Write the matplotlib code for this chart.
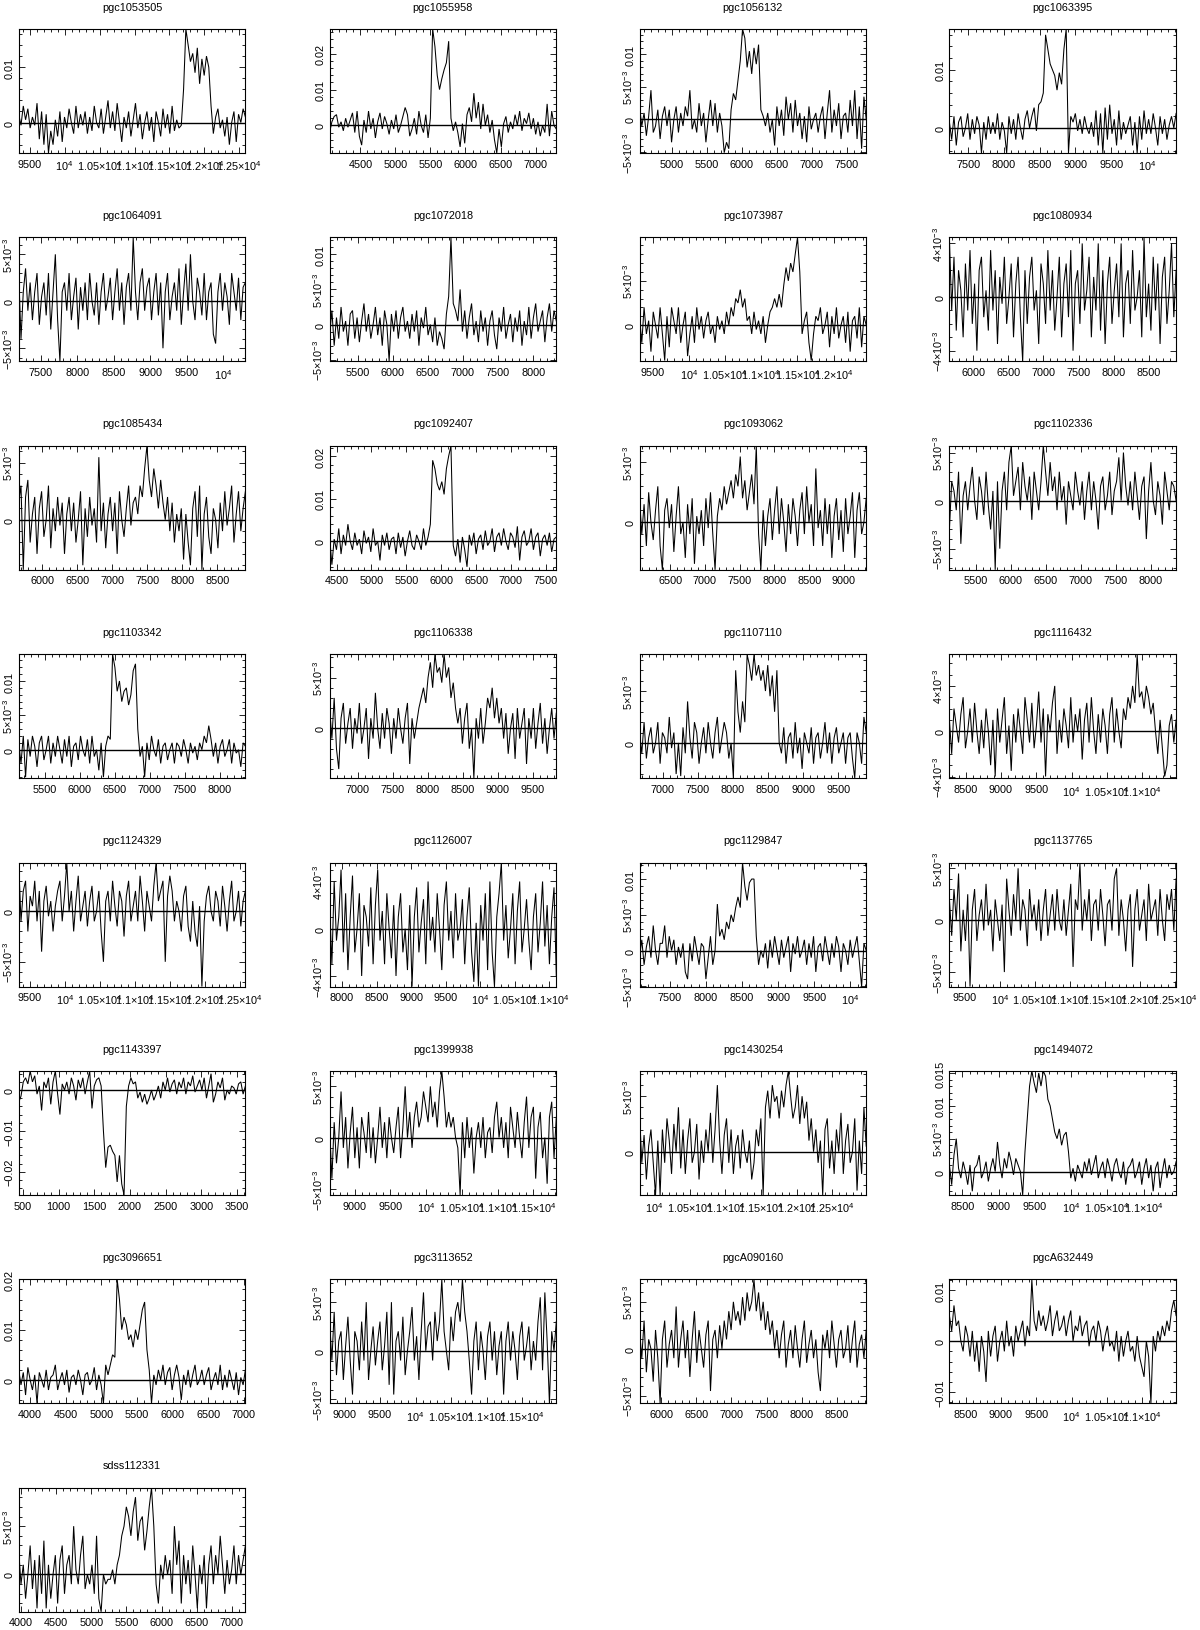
import numpy as np
import matplotlib
matplotlib.use("Agg")
import matplotlib.pyplot as plt
from matplotlib.ticker import MultipleLocator, FuncFormatter

plt.rcParams['font.family'] = ['Liberation Sans', 'DejaVu Sans']
plt.rcParams['mathtext.fontset'] = 'custom'
plt.rcParams['mathtext.rm'] = 'Liberation Sans'
plt.rcParams['mathtext.it'] = 'Liberation Sans:italic'
plt.rcParams['mathtext.bf'] = 'Liberation Sans:bold'

# ---------------- data ----------------
names = ["pgc1053505", "pgc1055958", "pgc1056132", "pgc1063395",
         "pgc1064091", "pgc1072018", "pgc1073987", "pgc1080934",
         "pgc1085434", "pgc1092407", "pgc1093062", "pgc1102336",
         "pgc1103342", "pgc1106338", "pgc1107110", "pgc1116432",
         "pgc1124329", "pgc1126007", "pgc1129847", "pgc1137765",
         "pgc1143397", "pgc1399938", "pgc1430254", "pgc1494072",
         "pgc3096651", "pgc3113652", "pgcA090160", "pgcA632449",
         "sdss112331"]

# velocity range of each spectrum (km/s)
vel_start = [9343, 4062, 4538, 7234, 7200, 5100, 9320, 5660,
             5660, 4400, 6060, 5120, 5130, 6600, 6670, 8270,
             9340, 7820, 7080, 9280, 440, 8650, 9790, 8320,
             3840, 8790, 5690, 8270, 3965]
vel_end = [12586, 7295, 7776, 10411, 10300, 8330, 12450, 8890,
           8900, 7650, 9320, 8360, 8370, 9840, 9900, 11480,
           12580, 11100, 10220, 12520, 3620, 11820, 12980, 11450,
           7020, 11980, 8920, 11480, 7195]

# flux axis limits (units of 1e-3)
flux_lo = [-5.5, -7.7, -5.15, -4.3, -6.4, -5.24, -4.1, -4.8,
           -4.4, -6.7, -4.0, -7.2, -4.15, -4.9, -3.4, -4.15,
           -7.45, -4.9, -5.05, -6.4, -25.7, -5.6, -3.9, -3.57,
           -4.67, -5.41, -5.82, -12.2, -3.86]
flux_hi = [16.9, 26.9, 13.9, 17.0, 6.8, 12.4, 9.9, 4.45,
           6.5, 22.4, 6.4, 5.7, 13.9, 7.3, 8.55, 6.8,
           4.8, 5.6, 12.3, 5.55, 4.66, 6.5, 7.27, 15.3,
           20.0, 7.34, 7.39, 12.1, 8.97]
# labelled tick spacing (units of 1e-3)
flux_step = [10, 10, 5, 10, 5, 5, 5, 4,
             5, 10, 5, 5, 5, 5, 5, 4,
             5, 4, 5, 5, 10, 5, 5, 5,
             10, 5, 5, 10, 5]

# flux density per channel (units of 1e-3)
s_pgc1053505 = [1.5, -0.5, 3, 0.5, 2.5, -1, 1, -0.5, 3.5, -3,
                2, -4, 1.5, -5.5, -1.5, -4, 0.5, -2.5, 2, -3.5,
                1, -1, 2.5, 0, -2, 3, -1, 1.5, -0.5, 2,
                -2, 1, -1.5, 3, 0, -1, 2.5, -2, 1, 4,
                -1, 2, -1.5, 3.5, 0, -3.5, 1, -1, 2, -2.5,
                0.5, 3.5, -1, 1.5, -3, 0, 2, -1.5, 1, -3.5,
                2, 0, -2.5, 2.5, -1, 1.5, -2, 3, -1.5, 0.5,
                -1, -0.5, 6, 16.9, 14, 11, 12.5, 9, 13.5, 7,
                11.5, 8.5, 12, 10, 3, -2, 1, 2.5, -1, 0.5,
                -2.5, 1, -4, 0, 2, -3.5, 1.5, 0, 2.5, 1]
s_pgc1055958 = [-2, 1, 2.5, 3, -0.5, 1, -1.5, 2, -0.5, 1.5,
                3.5, -2, 4, -3, -5.5, 1.5, -2, 4, -1, 2,
                -3.5, 1, 3.5, -1, 2.5, 0.5, -2.5, 1.5, -1, 3,
                -2, 0, 2.5, 5, 3, -3, -1, 2, -2.5, 4,
                0, -2, 3, -3.5, 2, 27, 22, 14, 10, 13,
                15.5, 17.5, 23.5, 2, -1.5, 1, -2, -6, 0.5, -5,
                3, 5, 1, 9, 2, 6.5, -1, 6, 0, 3,
                -2, 1.5, -4, -7.7, -1, -6, 0.5, 2.5, -2, 1,
                -1, 3, 0, 4, -1.5, 2, 0.5, 3.5, -1, 2,
                -2.5, 1, -3, 0, -2, 6, -3, 4, 0, -1]
s_pgc1056132 = [2, -1, 1, -2.5, 0.5, 4.5, -2, -1, 1.5, -3,
                0.5, 2, -1, 1.5, -3.5, 0, 2, -2, 1, -1,
                2, 0.5, 4.5, -1.5, 0, -2, 2.5, -1, 1, -3.5,
                0, 3, -1, 2.5, -2, 1, -1, -5.1, -3.5, -4.5,
                1.5, 4, 3, 6, 9, 13.9, 12.5, 8, 10.5, 7,
                11, 8.5, 11.5, 1.5, 0.5, -1, 1, -2, 0, -4,
                2, -1, 1.5, -2.5, 3.5, 0, 2.5, -2, 3, -1,
                1, -3, 0.5, -3.5, 2, -1.5, 0, 1, -2, 0.5,
                2, -3, 1, 4.5, -2, 1.5, -1, 2.5, -3, 0.5,
                1, -2, 3, -1, 4.5, -3, 2, -4.5, 3.5, 0]
s_pgc1063395 = [1, -2, 2, -3, 1, 2, -1.5, 0, 2.5, -2,
                1.5, -1, 2, 0.5, -4.3, 1, -2, 2, -1, 1,
                -1, 2.5, -2, 1, -0.5, -4.3, 2, -1, 1.5, -2,
                2.5, 0, -2, 1.5, 3, 0, 2, 3.5, -0.5, 4,
                4.5, 6, 16, 13.5, 11, 10, 9, 6.5, 9.5, 7.5,
                13.5, 17, -4.3, 2, 1, 2.5, -0.5, 1.5, -1, 2,
                0, -1, 1, -1.5, 3, -3, 2.5, -4.3, 3.5, -2,
                4, -1, 1.5, -3, 3, -2, 1, -1, 0.5, 2,
                -3, 1, -4.3, 2, -2, 3, -1, 1.5, -1, 2.5,
                0, -3, 2, -1, 1.5, -2, 0.5, 2, 0, 2.5]
s_pgc1064091 = [3, -4, 1, 3.5, -1, 2, -2, 1, 3, -2.5,
                0.5, 2, -1.5, 3, -3, 1, 5, -2, -6.4, 1,
                2, -1, 3, -2, 0.5, 2.5, -3, 1.5, -1, 2,
                -2, 3, 0, -1.5, 2, -2.5, 1, 3, -1, 0.5,
                2.5, -2, 1, 3.5, -1, 2, -2.5, 1.5, 3, -1,
                6.8, 1, -2, 2, 3.5, -1, 1.5, 2.5, -2, 1,
                3, -1.5, 2, -5, 1, 3, -2, 0.5, 2, -1,
                3.5, -2.5, 1, 4, -1, 5, 0, -2, 2.5, 1,
                -1.5, 3, -2, 1, 2, -3.5, -4.5, 1, 3, -1,
                2, 0.5, -2.5, 3, 1, -1, 2.5, -2, 1.5, 2]
s_pgc1072018 = [-1.5, 2, -3, 1, -2, 2.5, -1, 0.5, -3, 1.5,
                2, -2, 1, -2.5, 0.5, 3, -1, 1.5, -2, 0,
                2.5, -1.5, 1, -3, 2, 0, -5.2, 1.5, -1, 2,
                -2, 1, 2.5, -1, 0.5, -2, 1.5, -1, 2, -3,
                1, -0.5, 2.5, -1.5, 0, -2.5, 1, -3, -1, -2,
                -3.5, 1.5, 4, 12.4, 3, 2, 0.5, 5, -1, 2,
                -2, 1, 3, -1.5, 0.5, -2.5, 2, -1, 1, -3,
                0.5, 2, -1.5, -3.5, 1, -1, 2.5, -2, 0, 1.5,
                -2.5, 1, -1, 2, -3, 0.5, -1.5, 2.5, -2, 1,
                3, -1, 0.5, 2, -2.5, 1, 3, -1, 2, 0.5]
s_pgc1073987 = [1, -2, 2, -1, 0.5, -3, 1.5, 0, -1.5, 2,
                -1, -4, 1, -2.5, 2, 0.5, -1, 2, -2, 0,
                1.5, -3.5, -1, 1, -2, 2, -0.5, 1, -1.5, 0.5,
                1.5, -1, 0, -2, 1, -0.5, 0.5, -1, 1.5, 0,
                2, 1, 3, 2.5, 4, 2, 3, 0.5, 1, -1,
                1.5, -0.5, 0.5, -1, 1, -2, 0, 1.5, 2, 3,
                2, 3.5, 2, 4.5, 6.5, 5, 7, 6, 8, 9.9,
                6, -1, 0.5, 1.5, -2, -4, -1, 1, 0.5, 2,
                -1, 0, 1.5, -2.5, 1, -1, 2, -1.5, 0, 1,
                -2, 1.5, -3, 0.5, 1, -1.5, 2, -2.5, 1, 0]
s_pgc1080934 = [4.4, -1, 3, -2.5, 2, 0.5, -3, 2.5, -1, 3.5,
                -2, 1, -4, 2, 3, -1.5, 0.5, -2.5, 3.5, -1,
                2, -3.5, 1.5, -0.5, 3, -2, 0, 2.5, -3, 1,
                3, -1.5, -4.8, 2, -2, 1.5, 3, -1, 0.5, -3.5,
                2.5, 1, -2, 3.5, -1, 2, -2.5, 0, 3, -3,
                1, 2.5, -1.5, 3.5, -4, 1, 2, -2, 4, -1,
                0.5, 3, -3, 1.5, -1, 4, -2.5, 2, -3.5, 1,
                3, -2, 0.5, 2.5, -1.5, 4, -3, 1, 2, -2,
                3.5, -1, 0, 2, -3, 4.4, -1.5, 1, -2.5, 3,
                -1, 2.5, -3.5, 1.5, 3, -2, 0.5, 4, -1.5, 2]
s_pgc1085434 = [1.5, 3, -4.4, 2, 3.5, -2, 0.5, 2, -3, 1,
                2.5, -1.5, 0, 3, -2.5, 1, -1, 2, -0.5, 1.5,
                -3, 0.5, 2, -1, 1.5, -2, 0, 2.5, -4, 1,
                -1.5, 2, -0.5, 1, -2, 5.5, -1, 1.5, -2.5, 0.5,
                2, -1, 1.5, -3, 2.5, 0, -1.5, 1, 3, -0.5,
                1.5, 2, 0.5, 3, 2, 4.5, 6.5, 3.5, 2, 4.5,
                3, 1, 3.5, 1.5, 0, 2, -1, 1.5, -2, 0.5,
                -1, 1, -3.5, 0.5, -2, -4, 1, 2.5, -1.5, 3,
                -4.4, 0.5, 2, -1.5, -3, 1, 0, -2.5, 1.5, -1,
                2.5, -0.5, 1, 3, -2, 0.5, 2.5, -1, 1, 2.5]
s_pgc1092407 = [1, -5.5, 0.5, -2, 3, -3, 1.5, -1, 4, 0,
                -2, 2, -1, 0.5, -3, 2.5, -0.5, 1, -2.5, 3,
                -1, 0, -4.5, 1.5, -1, 2, -2, 0.5, 1, -3,
                2, -1.5, 1, -3.5, 0, 2.5, -1, -2, 1.5, 0,
                -2, 3, -1, 1, 4, 19, 17, 13.5, 12, 14,
                11, 17, 20, 22.4, -1, -3.5, 0.5, -5, 1, -2,
                -6, 1.5, -1, 2, -3, 0.5, 1.5, -2, 2.5, -1,
                0, 3, -2.5, 1, 2, -1, 3, 0, -2, 2,
                1, -1.5, 3.5, -4.5, 1, 2.5, -1, 0, 3, -2,
                1, 2, -3.5, 0.5, 1.5, -1, 2, -2.5, 0.5, 1]
s_pgc1093062 = [2, -1, 1.5, -2, 2.5, 0, -1.5, 1, 3, -2,
                -4, 1, 2, -0.5, 1.5, -2.5, 0.5, 3, -1, 0,
                -3, 1.5, -1, 2, -3.5, 0.5, -1, 1, -2, 2,
                -0.5, 2.5, -1, -4, 0.5, 2, 1, 3, 1.5, 2.5,
                3.5, 2, 4, 3, 5.5, 2, 3.5, 1, 2.5, 4,
                1.5, 6.4, -1, -4, 1, -2, 0.5, 2, -1.5, 1,
                3, -1, 2, 0, -2.5, 1.5, -1, 2, 0.5, -2,
                1, 2.5, -1, 3, 0, 1.5, -2, 4.5, -0.5, 1,
                -2, 2, -1, 1.5, -3, 0.5, 2, -1.5, 1, -2.5,
                2, -1, 0.5, 2.5, -3, 1, 2.5, -1, 0, 2]
s_pgc1102336 = [-3, 2, 1, -1, 3, -4.5, 0.5, 2, -1, 1.5,
                3.5, 0, -2, 2.5, 1, -1.5, 3, -0.5, -3, 1,
                -7.2, 2, -5, 1, 3, -1, 4, 5.7, 0.5, 2,
                3.5, -1, 4, 1.5, 0, 2.5, -2, 3, 1, -1,
                2, 5.7, 3, 0.5, 4, 1, 2.5, -1, 3, 0,
                1.5, -2.5, 2, 0.5, -1, 3, 1, -0.5, 2, -2,
                1, 3, -1, 2, 0, -3, 1.5, 2.5, -1, 0.5,
                3, -1.5, 1, 2, 4.5, 0, 5, 1.5, -0.5, 2,
                -1, 3, 0.5, -2, 1.5, 2.5, -4, 1, 4, 0,
                -1.5, 2, 0.5, -2.5, 3, 1, -1, 2, 1.5, 0]
s_pgc1103342 = [1, -2, 2, -4, 1.5, -1, 2, 0.5, -2.5, 1,
                2, -1.5, 0, 2, -2, 1, -1, 2, 0, -2,
                1.5, -1, 2, -2.5, 0.5, 1, -1.5, 2, 0, -1,
                1.5, -2, 2, -1, 0, -3, 1, -4, 0.5, 2,
                1.5, 13.9, 12, 8.5, 10, 7, 8.5, 9, 6.5, 8,
                11.5, 12.5, 3, -1, 0.5, -4, 1, -1.5, 2, 0,
                -1, 1.5, -2, 0.5, 1, -1.5, 0, 1, -2, 1,
                0.5, -1, 1.5, 0, -2, 1, -0.5, 0.5, -1.5, 1,
                0, 2, 1, 3.5, 1.5, -1, 1, -2, 0.5, 1.5,
                -1, 0, 1.5, -2, 1, -0.5, 0, -2.5, 1, 0.5]
s_pgc1106338 = [2, -1, 3, -2, -4, 1, 2.5, -1.5, 0.5, 2,
                -2, 1, -0.5, 2.5, -1.5, 0, 2, -3, 1, -1,
                3.5, 0, -2, 1.5, -1, 2, 0.5, -2.5, 1, -1,
                2, 0, -1.5, 1, 2.5, -3.5, 1, -1, 0.5, 2,
                3, 4, 2.5, 5, 6.5, 4, 7.3, 5.5, 6, 4.5,
                7.3, 5, 6, 3, 4.5, 2, 0.5, 2, -1.5, 1,
                2.5, -2, 0, -4.9, 1, -1, 2, -1.5, 0.5, 3,
                2, 4, 1, 3, 0.5, 2, -1, 1.5, -2.5, 0,
                1.5, -3, 2, -1, 0.5, 2, -3.5, 1, -1, 2,
                -2, 0.5, 2.5, -1.5, 1, -2.5, 0, 2, -1, 1.5]
s_pgc1107110 = [1, -1, 2, -1.5, 0.5, 1.5, -1, 0, 2, -2,
                1, 0.5, -1, 2.5, -0.5, 1, -3, 0, -3.2, 1.5,
                -1, 4, 0.5, -1.5, 2, 1, -2, 0, 1.5, -1,
                2, 0, -1.5, 1, 2.5, -1, 0.5, 2, 1, -1.5,
                0, -3.4, 7, 3, 1, 4, 2, 8.5, 7.5, 6,
                8.5, 6.5, 7.5, 6, 7, 5, 7.5, 4.5, 6.5, 3,
                7, 0, -1, 1.5, -2, 0.5, 1, -1.5, 2, -1,
                0.5, -2.5, 1, 0, -1, 1.5, -2, 0.5, 1, -1.5,
                0, 2, -1, 1, -2, 0.5, 1.5, -1, 0, 1,
                -2, 0.5, 1, -1.5, -3.4, 1, 0, -2, 2.5, 1]
s_pgc1116432 = [1, -2, 2, 0.5, -1, 1.5, 3, -1.5, 0, 2,
                -1, 2.5, 0, -2, 1, -1.5, 2, 0, -3, 1,
                -4, 2, -1, 1, 3, -2, 0.5, -3.5, 1.5, -1,
                2, 0, -2, 3, 1, -1, 2.5, -1.5, 0.5, 3.5,
                -1, 2, -4, 1.5, 0, 2.5, 4, -2, 1, -1,
                2, 0.5, -1.5, 3, -1, 1.5, 0, 2, -2.5, 1,
                2.5, -1, 3, 0, -2, 1.5, -1, 2, 0.5, -2,
                1.5, 3, -1, 2, 0, -1.5, 2, 1, 3, 2,
                4, 2.5, 6.8, 3, 3.5, 2, 4, 3, 1.5, 2.5,
                0, -2, 1, -1.5, -4, -3, 0.5, 1.5, -1, 1]
s_pgc1124329 = [4.8, -1, 2, 3, -2, 1.5, 0.5, 3, -1, 2,
                -4, 1, 2.5, -0.5, 1, -2, 0.5, 2, 3, -1,
                1.5, 4.8, 0, 2, -2, 1, 3.5, -1, 0.5, 2,
                -1.5, 1, 2.5, -1, 0, 2, -2, -5, 1, 2,
                -1, 3, 0.5, -1.5, 2, 1, -2.5, 1.5, 3, -1,
                0.5, 2, -1, 3.5, 1, -2, 2, 0.5, -1, 2.5,
                4.8, 1, 2, 3, -5, 1.5, 3.5, 2, -1, 1,
                0, -2, 1.5, 2.5, -1.5, -3, 1, -2, -3.5, 0.5,
                -7.45, -1, 1.5, 2.5, 0, -1, 2, 1, -1.5, 2.5,
                0.5, -2, 1, 3, -1, 0, 2, -1.5, 1, 2]
s_pgc1126007 = [2, -3, 4, -1, 1, 5, -2, 3, -3.5, 1,
                4.5, -2, 0, 3, -4, 2, 1, -1.5, 3.5, -3,
                2, 5, -1, 1.5, -3, 3, 0, -2.5, 2, -4,
                1, 3, -2, 0, -3.5, 2, -4.9, 1, 3.5, -2,
                0.5, 2.5, -3, 4, -1, 1, -2, 3, 0, -3.5,
                2, 4, -1, 1.5, -2.5, 3, -1, 0, 2.5, -3,
                1, 3.5, -2, -4.5, 0.5, -4.9, 2, -1, 3, -3.5,
                4, -2, -4.9, 1, 3, 5.6, -1, 2, -2.5, 0,
                3, -3, 1.5, 4, -2, 0, 2.5, -1, -3.5, 1,
                3, -2, 0.5, 4, -1.5, 2, -3, 1, 3.5, -4]
s_pgc1129847 = [-1, 1.5, -2, 0.5, 2, -1, 3.5, 0, -2, 1,
                1, 3.5, -1, 2, 0, 1.5, -2, 0.5, -1, 1,
                -3, -4, 1, -1.5, 2, 0, -2, 1, 0.5, -4,
                -1, 2, -2, 0, 6.5, 2, 3, 1.5, 4, 3,
                5, 4, 6, 7.5, 6, 12.3, 9, 7, 9.5, 10,
                10, 2, -2, 0, -1, 1, -2.5, 1.5, -1, 2,
                0, -2, 1.5, -1, 0.5, 2, -3, 1, -0.5, 2,
                -1, 0, 1.5, -2, 1, -1, 2, -3, 0.5, 1,
                -1.5, 2, 0, -2, 1, -1, 2, 0.5, -3, 1,
                0, -2, 1.5, -1, 0.5, 2, -1.5, -5.05, 1, 0]
s_pgc1137765 = [2, -1.5, 3, 0, 4.5, -3, 1, -2, 2.5, -6.4,
                1, 3, -2, 0.5, 2, -1, 3.5, -0.5, 1, -3,
                2, 0, -2, 1.5, -5, 4, 1, -1.5, 2.5, 0,
                5, -1, 2, 1, -2.5, 3, 0, 1.5, -1, 2,
                -2, 1, 3, -1.5, 0.5, 2.5, -1, 3, 0, -1,
                2, -1.5, 1, 3.5, -4.5, 2, 1, 5.5, -1, 2,
                0, 3, -2, 1.5, 2, -1, 3, 0.5, -2.5, 1.5,
                2, -1, 4, 5, -1.5, 2, 0, -3, 1, 2.5,
                -4.5, 1, 3, -1, 0.5, 2, -2, 3.5, 0, 1,
                2, -1.5, 3, 0, -2, 2.5, 1, 3, -1, 4]
s_pgc1143397 = [-3, -1.5, 2, 3, 1.5, 4.66, 2, 3.5, -1, 1,
                -5, 2, 0.5, 3, -3.5, 2, 4.66, -1, -6, 1.5,
                0, 2, -1, 3, 1, -2.5, 2.5, 0.5, 3, -1,
                2, 4.66, -4.5, 1, 2.5, 3, 1, -10, -19, -14,
                -13.5, -15, -16, -22.5, -16, -23, -25.7, -4, 1, 3,
                1.5, 2, -2, -0.5, -3, -1, -3.5, -2, 0, -2.5,
                -1, 1, -2, 2, 0, 3, -0.5, 1.5, 2.5, -1,
                2, 0.5, 3, -1, 2, 1, 3.5, -0.5, 1, 2.5,
                0, 3, -2, 1, 4, -3, -1, 2, 0.5, 3,
                -2.5, 0, -1, 1, 0.5, -1, 1.5, 2, -1, 1]
s_pgc1399938 = [1, -4, 1.5, -2.5, 0, 4.5, -1, 2, -3, 0.5,
                3, -2, 1, -3, 2, 0.5, -1.5, 2.5, -2, 1,
                -2.5, 0, 3, -1, 1.5, -2, 2, 0, -1.5, 1,
                3, -2, 1, 5, 0, 2.5, -1, 2, 3.5, 1,
                2, 4.5, 3, 1.5, 5, 2, 3.5, 1, 4.5, 6.5,
                4, 1, 2.5, 1, 2, 0, -1, -5.6, 1.5, -2,
                2, -1, 1, -3.5, 0, 1.5, -1, 2, -2, 0.5,
                1, -1.5, 2, 3.5, 0, 2, -1, 1.5, -2, 3,
                1, -1, 2.5, 0, -2, 1.5, 4, -1, 2, 3,
                -4, 1, 2.5, -2, 0, -4.5, 2, 3.5, -2, 2]
s_pgc1430254 = [3.5, -1, 1.5, -2.5, 0.5, 2, -1, -3.9, 1, -3.9,
                2, -1, 3, 1, -2, 2.5, 0, 4, -1.5, 2,
                -2, 1, 3, -1, 0, 2.5, -2.5, 1, -1, 2,
                0, 3.5, -1, 2, 6, 1, -2, 1.5, 3, -1,
                2, -2, 0.5, 1.5, -1.5, 2, 0, -1, 1, -2.5,
                -1, 2, 0.5, 3, -3.9, 4, 5.5, 3, 6, 4.5,
                5, 3, 5.5, 4, 6, 7.27, 5, 3, 4, 6,
                2.5, 5, 3, 4.5, 1, 3, 0, 2, -1, 1,
                -3.9, 2, 3, -1.5, 1, -2, 2, 0, 3.5, -2,
                1, 2.5, -1, 0, 3, -3.5, 1, -2, 4, 0.5]
s_pgc1494072 = [1, -2, 2.5, 5, 0.5, -1, 1.5, 0, -2, 1,
                -3, 0.5, 1, 2.5, -1, 0, 1.5, -1.5, 0.5, 2,
                0, 4.5, 1, -1, 2, 0.5, 3, 1.5, -0.5, 2,
                1, 0, -3.57, 3, 8, 13, 15.3, 13.5, 12, 15,
                13, 15.3, 14.5, 11, 10, 8, 6, 5, 6.5, 4,
                5.5, 6, 3, -1, 0.5, -1.5, 1, 0, -1, 1.5,
                0, 2, -0.5, 1, 2.5, -1, 0.5, 1.5, -1, 2,
                0.5, -1.5, 1, 2, 0, -1, 1.5, -2, 0.5, 1,
                2, -1, 0, 1.5, -2, 0.5, 2, -1, 1, -3,
                0.5, 1.5, -2.5, 0, 2, -1, 1, -0.5, 0, 1.5]
s_pgc3096651 = [2, -1, 1.5, -3, 2.5, 0, -2, 1, -4.67, 1.5,
                0, -1.5, 2, -2, 0.5, 1, 3, -2, 0, 1.5,
                -1, 2, -2.5, 0.5, 1, -1, 2, 0, -3, 1,
                1.5, -1, 0, 2.5, -2, 1, -1, -4.67, 3, 1,
                3, 5, 4.5, 20, 16, 10, 12.5, 11, 8, 9,
                6.5, 10, 8, 11, 14, 15.5, 6, 2, -4.67, 1,
                -1, 2, 0, 3, -1, 1.5, 2.5, -2, 1, 3,
                0.5, -4, 1, -1, 2, -1.5, 1, 3, -1, 0,
                2, -1, 1, 2.5, -2, 0, 1.5, -1, 3, -2,
                1, -1.5, 2, 0, -2, 1.5, -3, 0.5, -1, 2]
s_pgc3113652 = [3, -1, 4, -2.5, 1, 2, -3, 0.5, 3.5, -1,
                -4.5, 2, 1, -2, 3, -1, 5, -3, 0, 2.5,
                -1.5, 1, 3, -2, 0.5, 4, -3.5, 5, -4.5, 1,
                2, -1, 3.5, -2.5, 0, 2, 4.5, -1, 1.5, -3,
                2, 6, 0, 2.5, 3, -1, 4, 1, 3, 7.34,
                2, 0, -2, 3.5, 1, 4, 5, 3, 7.34, 4,
                2, -1, -4.5, 1, 3, -2, 2, 0, -3, 1.5,
                3, -1, 2, -2.5, 0.5, 2, -4.5, 1, 3, -1,
                2, 0, -3, 1.5, 3, -1, 0.5, 2.5, -2, 1,
                -1, 3, 5.5, -2, 6, 1, -5.41, 2, 0, 3]
s_pgcA090160 = [2, -1, 3, -2.5, 1, 0, -3.5, 2, -1, -5.82,
                1, 3, -2, 0.5, 2, -1, 4.5, -2, 1, 3,
                -1, 2, -3, 1, 4, -1.5, 2, 0, -2, 1.5,
                3, -4.5, 1, 2, -1, 2.5, 0, 3, 1, 4,
                2, 5, 3, 4, 2.5, 5.5, 3, 6, 4, 5,
                7.39, 4, 6, 3, 5, 2, 4, 1.5, 3, 0,
                2, -1, 1.5, 3, -2, 0.5, 2, -1, 2.5, 0,
                -2, 1, 3, -1.5, 0.5, 2, -1, 1, -2.5, -4.5,
                1.5, 0, 2, -1, 3, 0.5, -2, 1, 2, -1,
                0, 2.5, -1.5, 1, 3, -2, 0.5, 1.5, -1, 2]
s_pgcA632449 = [5, 2, 7, 3, 4, 0, -2, 3, 1, -3,
                2, -4, 0, -6, 1, -2, -8, 2, -3, 1,
                3, -4, 0, 2, -2, 4, -1, 1, -3, 3,
                0, 2, 4, -1, 3, 1, 12.1, 4, 2, 6,
                3, 5, 2, 4, 7, 1, 4, 6, 2, 3,
                5, 1, 4, 6, 0, 3, 2, 5, 1, 3,
                4, -1, 2, 3, 0, 4, 2, -2, 1, 3,
                -1, 0, -2, 2, -4, 1, -3, 0, 2, -2,
                -1, -4, 1, -3, -5, -7, 0, -3, -12.2, 1,
                -2, 2, 0, 3, 1, 4, 2, 6, 8, 5]
s_sdss112331 = [2.5, -1, 1, -2.5, 0, 3, -1.5, 1.5, -3.5, 2,
                -2, 3.5, -3.5, 1, -2.5, 0, 2, -3, 1.5, 3,
                -2, 1, 2, -1, 5, 0.5, -1, 2, 4, -1.5,
                0, -1, 1, -2, 4, -2.5, -3.86, 0, -1, -0.5,
                -0.5, 0.5, -1, 1, 2, 4, 5, 7, 6, 4,
                6.5, 8, 3.5, 5.5, 6, 2.5, 4.5, 7, 8.97, 5,
                -1, -3, 1, -0.5, 2, 0, 1.5, -2, 5, 1,
                3.5, -3, 2, -1, 1.5, -2, 3, 0, -3.5, 1,
                -1, 2, -3.5, 1, 3, -1, 2, 0, 4, 1,
                -2, 1.5, -1, 0.5, 3, -1, 2, 0, 1.5, 3]

spectra = [s_pgc1053505, s_pgc1055958, s_pgc1056132, s_pgc1063395,
           s_pgc1064091, s_pgc1072018, s_pgc1073987, s_pgc1080934,
           s_pgc1085434, s_pgc1092407, s_pgc1093062, s_pgc1102336,
           s_pgc1103342, s_pgc1106338, s_pgc1107110, s_pgc1116432,
           s_pgc1124329, s_pgc1126007, s_pgc1129847, s_pgc1137765,
           s_pgc1143397, s_pgc1399938, s_pgc1430254, s_pgc1494072,
           s_pgc3096651, s_pgc3113652, s_pgcA090160, s_pgcA632449,
           s_sdss112331]

# ---------------- layout ----------------
W, H = 1200, 1631
fig = plt.figure(figsize=(W / 100, H / 100), dpi=100)
col_left = [18.7, 329.6, 639.5, 949.4]
ax_w = 226.7
row_top0, row_pitch, ax_h = 30.0, 208.4, 124.0

FS = 7.8


def xfmt(v, pos=None):
    v = round(v)
    if v < 10000:
        return f"{v}"
    if v == 10000:
        return r"$10^{4}$"
    s = f"{v / 1e4:.2f}".rstrip('0').rstrip('.')
    return rf"${s}{{\times}}10^{{4}}$"


def yfmt(v, pos=None):
    m = round(v * 1e3, 3)
    if abs(m) < 1e-9:
        return "0"
    if abs(m) >= 10 - 1e-9:
        s = f"{abs(m) / 1000:.3f}".rstrip('0')
        return ("\u2212" if m < 0 else "") + s
    mi = int(round(abs(m)))
    return rf"${'-' if m < 0 else ''}{mi}{{\times}}10^{{-3}}$"


for i, name in enumerate(names):
    r, c = divmod(i, 4)
    left = col_left[c]
    top = row_top0 + r * row_pitch
    ax = fig.add_axes([left / W, 1 - (top + ax_h) / H, ax_w / W, ax_h / H])
    flux = np.asarray(spectra[i], dtype=float) * 1e-3
    vel = np.linspace(vel_start[i], vel_end[i], len(flux))
    ax.plot(vel, flux, color='black', lw=0.75, solid_joinstyle='miter')
    ax.axhline(0, color='black', lw=1.0)
    ax.set_xlim(vel_start[i], vel_end[i])
    ax.set_ylim(flux_lo[i] * 1e-3, flux_hi[i] * 1e-3)

    ax.xaxis.set_major_locator(MultipleLocator(500))
    ax.xaxis.set_minor_locator(MultipleLocator(100))
    step = flux_step[i] * 1e-3
    ax.yaxis.set_major_locator(MultipleLocator(step))
    ax.yaxis.set_minor_locator(MultipleLocator(step / 5 if flux_step[i] != 4 else step / 4))
    ax.xaxis.set_major_formatter(FuncFormatter(xfmt))
    ax.yaxis.set_major_formatter(FuncFormatter(yfmt))

    ax.tick_params(which='both', direction='in', top=True, right=True,
                   width=0.6, color='black')
    ax.tick_params(which='major', length=4)
    ax.tick_params(which='minor', length=2)
    ax.tick_params(axis='x', labelsize=FS, pad=4)
    ax.tick_params(axis='y', labelsize=FS, pad=3, labelrotation=90)
    for lab in ax.get_yticklabels():
        lab.set_va('center')
    for sp in ax.spines.values():
        sp.set_linewidth(0.8)
    ax.set_title(name, fontsize=FS, pad=14)

fig.savefig("out.png", dpi=100)
